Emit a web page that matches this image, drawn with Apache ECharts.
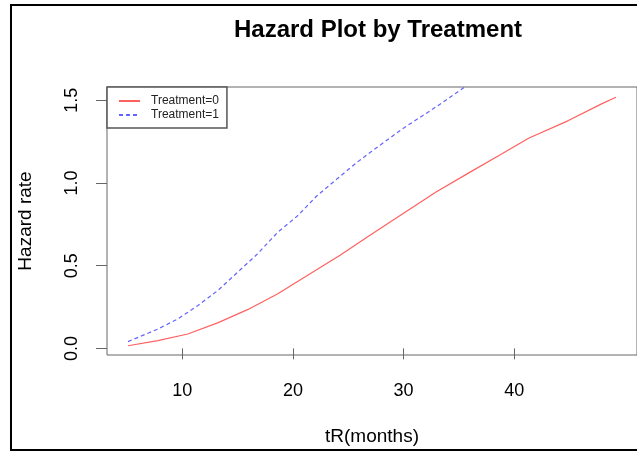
<!DOCTYPE html>
<html>
<head>
<meta charset="utf-8">
<script src="https://cdn.jsdelivr.net/npm/echarts@6/dist/echarts.min.js"></script>
<style>
  html, body { margin: 0; padding: 0; background: #fff; }
  #chart { width: 637px; height: 452px; }
</style>
</head>
<body>
<div id="chart"></div>
<script>
// hazard curves
const tR0 = [5.1, 7.8, 10.5, 13.2, 15.9, 18.6, 21.3, 24.3, 27.1, 29.9, 32.9, 35.9, 38.9, 41.3, 44.9, 47.9, 49.2];
const hazard0 = [0.016, 0.047, 0.087, 0.154, 0.234, 0.329, 0.44, 0.565, 0.69, 0.813, 0.944, 1.061, 1.176, 1.27, 1.377, 1.478, 1.518];
const tR1 = [5.1, 7.8, 9.6, 11.4, 13.2, 15.0, 16.8, 18.6, 20.4, 22.2, 24.0, 25.8, 27.1, 29.9, 32.9, 35.5, 38.3];
const hazard1 = [0.041, 0.117, 0.178, 0.258, 0.349, 0.46, 0.571, 0.70, 0.80, 0.924, 1.025, 1.125, 1.19, 1.327, 1.458, 1.579, 1.70];
const xTicks = [10, 20, 30, 40];
const yTicks = [0, 0.5, 1.0, 1.5];
const seriesNames = ['Treatment=0', 'Treatment=1'];

const pairs = (xs, ys) => xs.map((x, i) => [x, ys[i]]);
const font = 'Liberation Sans, Arial, sans-serif';

const chart = echarts.init(document.getElementById('chart'));

chart.setOption({
  animation: false,
  backgroundColor: '#fff',
  title: {
    text: 'Hazard Plot by Treatment',
    left: 373,
    textAlign: 'center',
    top: 13,
    textStyle: { fontFamily: font, fontWeight: 'bold', fontSize: 24, color: '#000' }
  },
  graphic: [
    // outer frame of the figure
    {
      type: 'rect',
      shape: { x: 11, y: 5, width: 700, height: 445 },
      style: { fill: 'none', stroke: '#000', lineWidth: 2 },
      silent: true
    }
  ],
  grid: {
    left: 107, top: 87, right: -2, bottom: 97,
    show: true,
    borderColor: '#666',
    borderWidth: 1
  },
  legend: {
    orient: 'vertical',
    left: 107,
    top: 87,
    padding: [8, 8, 7, 11],
    itemWidth: 21,
    itemHeight: 12,
    itemGap: 2,
    backgroundColor: '#fff',
    borderColor: '#555',
    borderWidth: 1.5,
    borderRadius: 0,
    itemStyle: { opacity: 0 },
    data: seriesNames,
    textStyle: { fontFamily: font, fontSize: 12, color: '#222', padding: [0, 0, 0, 6] }
  },
  xAxis: {
    type: 'value',
    min: 3.2,
    max: 51.1,
    name: 'tR(months)',
    nameLocation: 'middle',
    nameGap: 72,
    nameTextStyle: { fontFamily: font, fontSize: 19, color: '#000' },
    axisLine: { show: false },
    splitLine: { show: false },
    axisTick: {
      show: true, length: 11, inside: false,
      customValues: xTicks,
      lineStyle: { color: '#666' }
    },
    axisLabel: {
      customValues: xTicks,
      margin: 27,
      fontFamily: font, fontSize: 18, color: '#000'
    }
  },
  yAxis: {
    type: 'value',
    min: -0.04,
    max: 1.58,
    name: 'Hazard rate',
    nameLocation: 'middle',
    nameGap: 72,
    nameRotate: 90,
    nameTextStyle: { fontFamily: font, fontSize: 19, color: '#000' },
    axisLine: { show: false },
    splitLine: { show: false },
    axisTick: {
      show: true, length: 11, inside: false,
      customValues: yTicks,
      lineStyle: { color: '#666' }
    },
    axisLabel: {
      customValues: yTicks,
      rotate: 90,
      margin: 26,
      fontFamily: font, fontSize: 18, color: '#000',
      formatter: v => v.toFixed(1)
    }
  },
  series: [
    {
      name: seriesNames[0],
      type: 'line',
      data: pairs(tR0, hazard0),
      showSymbol: false,
      symbol: 'none',
      smooth: false,
      clip: true,
      lineStyle: { color: '#ff6060', width: 1.2 },
      itemStyle: { color: '#ff6060' }
    },
    {
      name: seriesNames[1],
      type: 'line',
      data: pairs(tR1, hazard1),
      showSymbol: false,
      symbol: 'none',
      smooth: false,
      clip: true,
      lineStyle: { color: '#6464ff', width: 1.2, type: [4, 3] },
      itemStyle: { color: '#6464ff' }
    }
  ]
});
</script>
</body>
</html>
